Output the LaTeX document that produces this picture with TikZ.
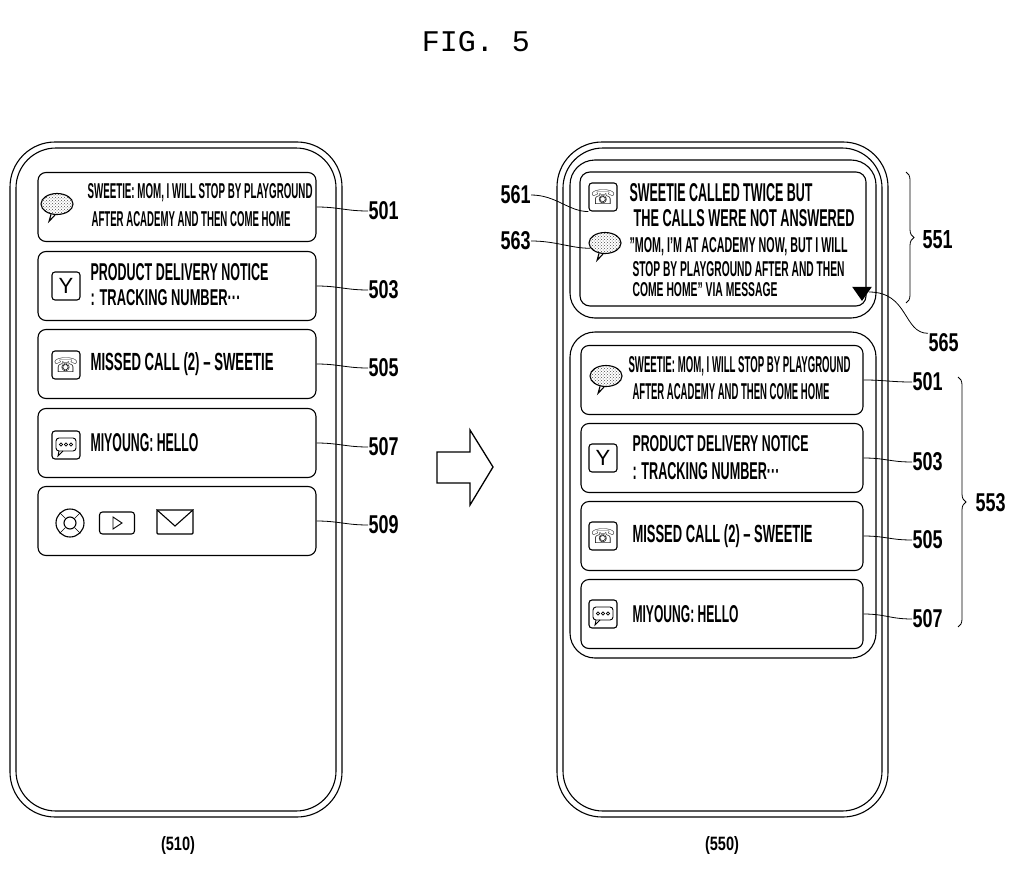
\documentclass[tikz,border=0pt]{standalone}
\usepackage{fontspec}
\setmainfont{Liberation Sans}[BoldFont=* Bold]
\newfontfamily\monof{Liberation Mono}
\newfontfamily\symf{DejaVu Sans}
\usetikzlibrary{patterns,decorations.pathreplacing,shapes.geometric}
\newcommand\fitline[3]{\resizebox{#1pt}{#2pt}{\bfseries #3}}
\begin{document}
\begin{tikzpicture}[x=1pt,y=-1pt,line width=1.1pt,
 card/.style={draw,rounded corners=8,minimum width=278,minimum height=69,inner sep=0},
 rcard/.style={card,minimum width=282},
 txt/.style={anchor=west,inner sep=0},
 lab/.style={anchor=west,inner sep=0},
 lead/.style={line width=0.8pt},
 ico/.style={draw,rounded corners=3,minimum width=28,minimum height=28,inner sep=0},
 bub/.style={draw,ellipse,minimum width=32,minimum height=21,inner sep=0,pattern=crosshatch dots,pattern color=black!70}]
\useasboundingbox (0,0) rectangle (1024,880);
\node[anchor=center] (title) at (476,42) {\monof\fontsize{30}{34}\selectfont FIG. 5};
% left phone
\draw[rounded corners=45] (10,142) rectangle (342,817);
\draw[rounded corners=40] (16,148) rectangle (336,811);
\node[card] (a501) at (177,207) {};
\node[card] (a503) at (177,286) {};
\node[card] (a505) at (177,364) {};
\node[card] (a507) at (177,443) {};
\node[card] (a509) at (177,521) {};
\node[txt] (t1) at (87,193) {\fitline{225}{15}{SWEETIE: MOM, I WILL STOP BY PLAYGROUND}};
\node[txt] (t2) at (91,219) {\fitline{199}{15}{AFTER ACADEMY AND THEN COME HOME}};
\node[txt] (t3) at (90,272) {\fitline{178}{17}{PRODUCT DELIVERY NOTICE}};
\node[txt] (t4) at (90,298) {\fitline{150}{16}{: TRACKING NUMBER···}};
\node[txt] (t5) at (90,364) {\fitline{183}{18}{MISSED CALL (2) – SWEETIE}};
\node[txt] (t6) at (90,443) {\fitline{108}{18}{MIYOUNG: HELLO}};
% left icons
\node[bub] (b1) at (57,204) {};
\draw (b1.-120) -- ++(-2,7) -- (b1.-100);
\node[ico] (y1) at (66,286) {\fontsize{22}{22}\selectfont Y};
\node[ico] (p1) at (66,365) {\symf\fontsize{20}{20}\selectfont ☏};
\node[ico] (m1) at (66,445) {};
\draw[rounded corners=3,line width=0.9pt] (56,438) rectangle (76,451);
\draw[line width=0.9pt] (59,451) -- (58,456) -- (63,451);
\foreach \xx in {61,66,71}{\draw[line width=0.7pt] (\xx,444.5) circle (1.6);}
\node[draw,circle,minimum size=28] (o1) at (70,523) {};
\node[draw,circle,minimum size=12] (o2) at (70,523) {};
\draw[line width=0.5pt] (o1.45)--(o2.45) (o1.135)--(o2.135) (o1.-45)--(o2.-45) (o1.-135)--(o2.-135);
\node[ico,minimum width=35,minimum height=22] (pl) at (117,523) {};
\draw[line width=0.9pt] (113,517) -- (122,523) -- (113,529) -- cycle;
\node[draw,minimum width=36,minimum height=24,inner sep=0,rounded corners=1] (env) at (175,522) {};
\draw (env.north west) -- (175,526) -- (env.north east);
% left labels
\foreach \n/\yy in {501/211,503/290,505/368,507/447,509/525}{
 \node[lab] (l\n) at (368,\yy) {\fitline{30}{18}{\n}};
 \draw[lead] (a\n.east) .. controls +(22,0) and +(-22,0) .. (l\n.west);
}
% arrow
\draw[line width=1.3pt] (437,452) -- (470,452) -- (470,430) -- (493,467) -- (470,505) -- (470,483) -- (437,483) -- cycle;
% right phone
\draw[rounded corners=45] (557,142) rectangle (888,817);
\draw[rounded corners=40] (563,148) rectangle (882,811);
\draw[rounded corners=25] (570,160) rectangle (876,318);
\node[draw,rounded corners=10,minimum width=286,minimum height=134,inner sep=0] (top) at (723,239) {};
\draw[rounded corners=25] (570,332) rectangle (876,658);
\node[rcard] (b501) at (722,380) {};
\node[rcard] (b503) at (722,458) {};
\node[rcard] (b505) at (722,536) {};
\node[rcard] (b507) at (722,614) {};
\node[txt] (r1) at (629,193) {\fitline{183}{18}{SWEETIE CALLED TWICE BUT}};
\node[txt] (r2) at (633,218) {\fitline{221}{17}{THE CALLS WERE NOT ANSWERED}};
\node[txt] (r3) at (629,247) {\fitline{218}{15}{"MOM, I'M AT ACADEMY NOW, BUT I WILL}};
\node[txt] (r4) at (632,269) {\fitline{212}{15}{STOP BY PLAYGROUND AFTER AND THEN}};
\node[txt] (r5) at (632,290) {\fitline{145}{14}{COME HOME" VIA MESSAGE}};
\node[txt] (r6) at (628,366) {\fitline{222}{16}{SWEETIE: MOM, I WILL STOP BY PLAYGROUND}};
\node[txt] (r7) at (632,392) {\fitline{197}{16}{AFTER ACADEMY AND THEN COME HOME}};
\node[txt] (r8) at (632,444) {\fitline{176}{16}{PRODUCT DELIVERY NOTICE}};
\node[txt] (r9) at (632,471) {\fitline{147}{17}{: TRACKING NUMBER···}};
\node[txt] (r10) at (632,536) {\fitline{180}{18}{MISSED CALL (2) – SWEETIE}};
\node[txt] (r11) at (632,614) {\fitline{106}{17}{MIYOUNG: HELLO}};
\node[fill,isosceles triangle,shape border rotate=-90,isosceles triangle apex angle=70,minimum size=14,inner sep=0] (tri) at (862,292) {};
% right icons
\node[ico] (p2) at (603,197) {\symf\fontsize{20}{20}\selectfont ☏};
\node[bub] (b2) at (605,243) {};
\draw (b2.-120) -- ++(-2,7) -- (b2.-100);
\node[bub] (b3) at (606,376) {};
\draw (b3.-120) -- ++(-2,7) -- (b3.-100);
\node[ico] (y2) at (603,458) {\fontsize{22}{22}\selectfont Y};
\node[ico] (p3) at (603,536) {\symf\fontsize{20}{20}\selectfont ☏};
\node[ico] (m2) at (603,614) {};
\draw[rounded corners=3,line width=0.9pt] (593,607) rectangle (613,620);
\draw[line width=0.9pt] (596,620) -- (595,625) -- (600,620);
\foreach \xx in {598,603,608}{\draw[line width=0.7pt] (\xx,613.5) circle (1.6);}
% right labels
\node[lab] (l561) at (500,195) {\fitline{30}{18}{561}};
\node[lab] (l563) at (500,241) {\fitline{30}{18}{563}};
\draw[lead] (l561.east) .. controls +(25,0) and +(-20,0) .. (p2.south west);
\draw[lead] (l563.east) .. controls +(25,0) and +(-20,0) .. (b2.-160);
\node[lab] (l565) at (928,343) {\fitline{30}{18}{565}};
\draw[lead] (tri.east) .. controls +(40,0) and +(-25,0) .. (l565.north west);
\foreach \n/\yy in {501/382,503/462,505/540,507/619}{
 \node[lab] (m\n) at (912,\yy) {\fitline{30}{18}{\n}};
 \draw[lead] (b\n.east) .. controls +(22,0) and +(-22,0) .. (m\n.west);
}
\coordinate (s1) at (906,172); \coordinate (s2) at (906,303);
\draw[lead,decorate,decoration={brace,amplitude=8}] (s1) -- (s2);
\node[lab] (l551) at (922,240) {\fitline{30}{18}{551}};
\coordinate (s3) at (958,377); \coordinate (s4) at (958,627);
\draw[lead,decorate,decoration={brace,amplitude=8}] (s3) -- (s4);
\node[lab] (l553) at (975,503) {\fitline{30}{18}{553}};
\node (c510) at (178,845) {\fitline{34}{14}{(510)}};
\node (c550) at (722,845) {\fitline{34}{14}{(550)}};
\end{tikzpicture}
\end{document}
